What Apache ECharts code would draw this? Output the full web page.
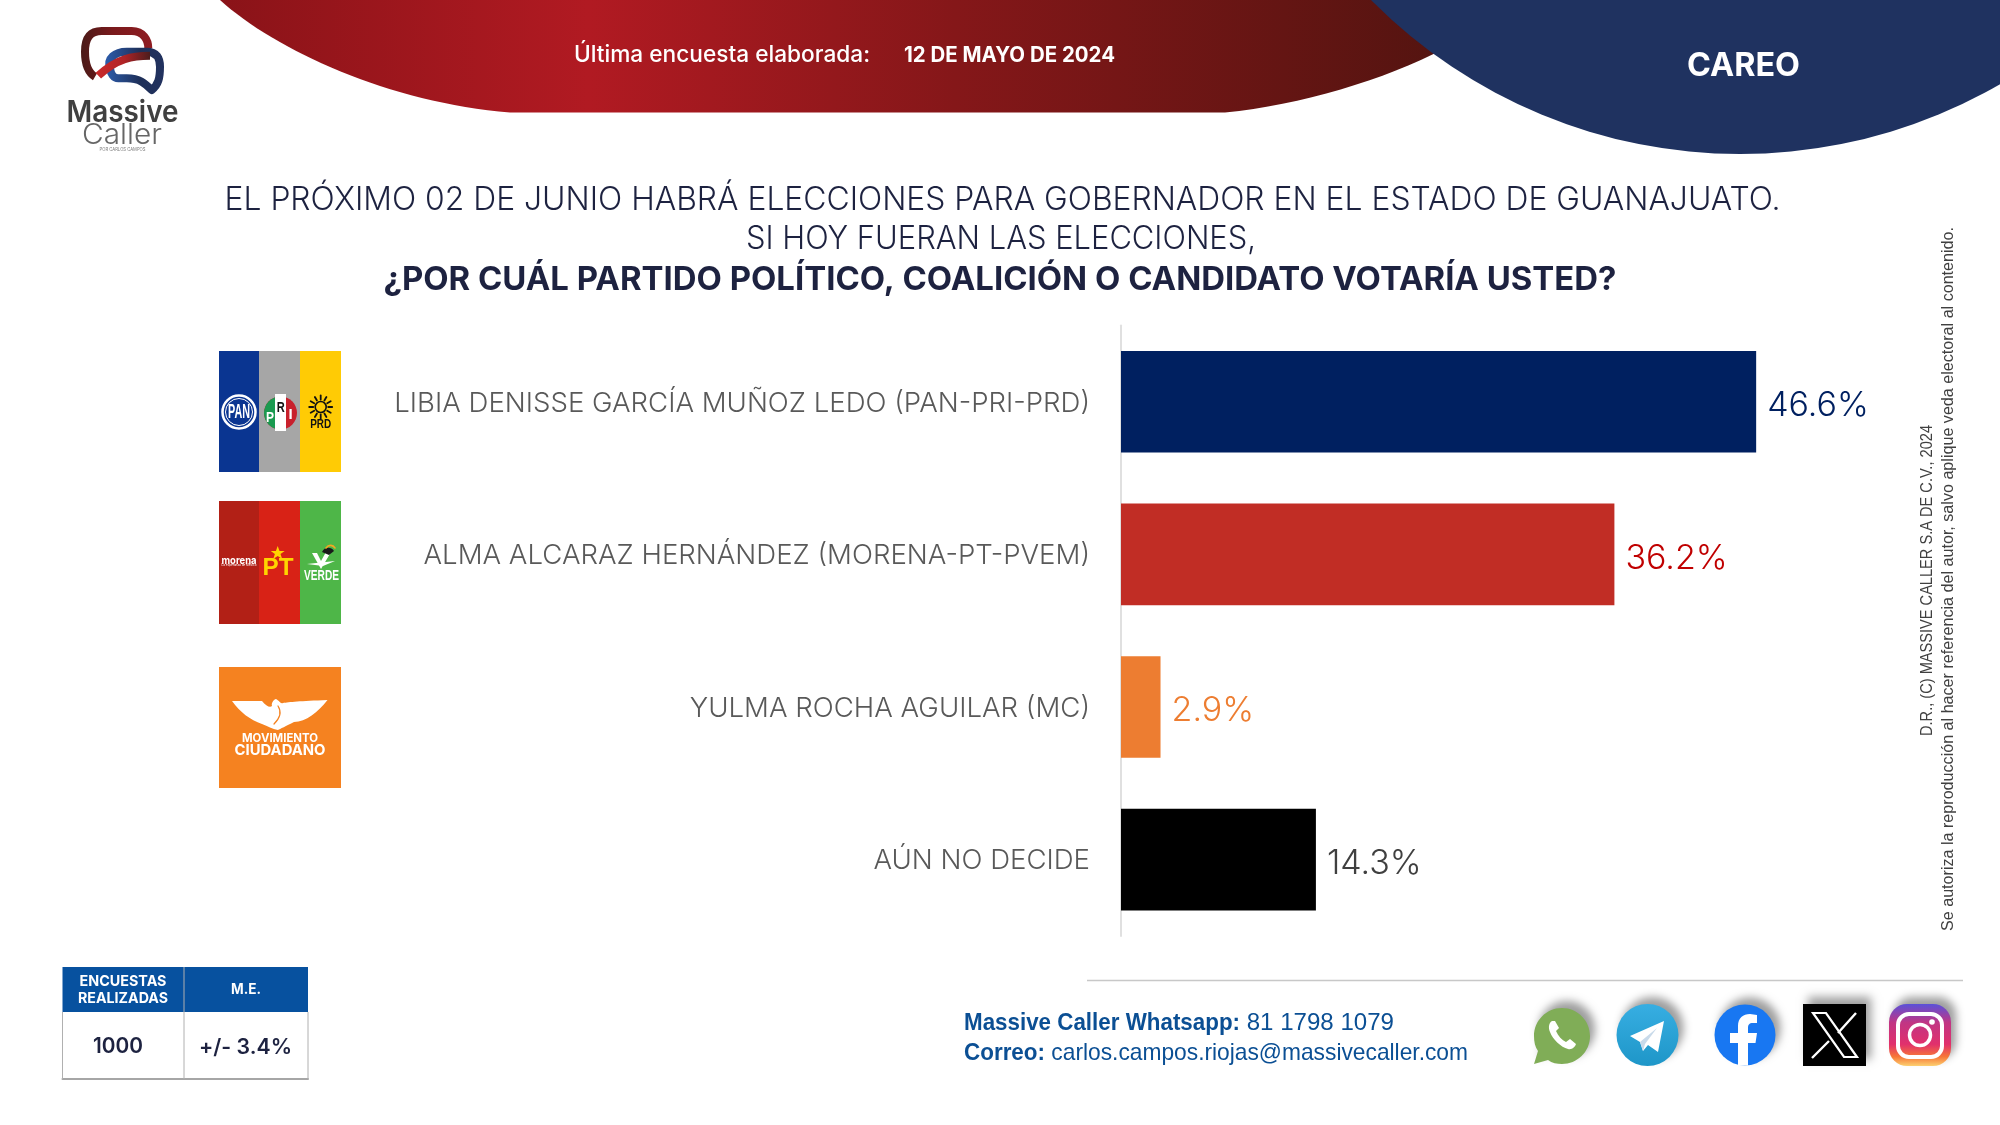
<!DOCTYPE html>
<html><head><meta charset="utf-8">
<style>html,body{margin:0;padding:0;background:#fff}#c{width:2000px;height:1125px}</style>
<script src="https://cdn.jsdelivr.net/npm/echarts@6/dist/echarts.min.js"></script>
</head><body><div id="c"></div>
<script>
const categories = ['LIBIA DENISSE GARCÍA MUÑOZ LEDO (PAN-PRI-PRD)','ALMA ALCARAZ HERNÁNDEZ (MORENA-PT-PVEM)','YULMA ROCHA AGUILAR (MC)','AÚN NO DECIDE'];
const values = [46.6, 36.2, 2.9, 14.3];
const barColors = ['#002060','#c12d25','#ed7d31','#000000'];
const labelColors = ['#002060','#c00000','#ed7d31','#404040'];
const titleLines = ['EL PRÓXIMO 02 DE JUNIO HABRÁ ELECCIONES PARA GOBERNADOR EN EL ESTADO DE GUANAJUATO.','SI HOY FUERAN LAS ELECCIONES,','¿POR CUÁL PARTIDO POLÍTICO, COALICIÓN O CANDIDATO VOTARÍA USTED?'];
const headerNote = 'Última encuesta elaborada:';
const headerDate = '12 DE MAYO DE 2024';
const headerTag = 'CAREO';
const tableHead = ['ENCUESTAS','REALIZADAS','M.E.'];
const tableBody = ['1000','+/- 3.4%'];
const contact = ['Massive Caller Whatsapp:',' 81 1798 1079','Correo:',' carlos.campos.riojas@massivecaller.com'];
const legal = ['D.R., (C) MASSIVE CALLER S.A DE C.V., 2024','Se autoriza la reproducción al hacer referencia del autor, salvo aplique veda electoral al contenido.'];

const SANS='Inter', NARROW='"Liberation Sans"';
const mctx=document.createElement('canvas').getContext('2d');
function T(text,x,y,size,color,o){o=o||{};
  const weight=o.w||400,family=o.f||SANS;
  const font=weight+' '+size+'px '+family;
  let sx=1; if(o.width){mctx.font=font;sx=o.width/mctx.measureText(text).width;}
  return {type:'text',x:x,y:o.rot?y:y+1.5,scaleX:sx,scaleY:1,rotation:o.rot||0,z:o.z||10,silent:true,
    style:{text:text,x:0,y:0,fill:color,font:font,align:o.a||'left',verticalAlign:'middle'}};
}
function R(x,y,w,h,fill,r,z){return {type:'rect',shape:{x:x,y:y,width:w,height:h,r:r||0},style:{fill:fill},z:z||5,silent:true};}
function C(cx,cy,r,fill,stroke,lw,z){return {type:'circle',shape:{cx:cx,cy:cy,r:r},style:{fill:fill||'none',stroke:stroke||null,lineWidth:lw||0},z:z||6,silent:true};}
let pathCount=0;
function P(d,fill,stroke,lw,z,extra){const name='decoPath'+(pathCount++);
  echarts.graphic.registerShape(name,echarts.graphic.extendPath(d));
  return {type:name,style:Object.assign({fill:fill||'none',stroke:stroke||null,lineWidth:lw||0,lineCap:'round',lineJoin:'round'},extra||{}),z:z||6,silent:true};}
function lin(stops,x2,y2){return {type:'linear',x:0,y:0,x2:x2===undefined?1:x2,y2:y2===undefined?0:y2,colorStops:stops.map((c,i)=>({offset:c[0],color:c[1]}))};}
const shadow={shadowColor:'rgba(0,0,0,0.38)',shadowBlur:9,shadowOffsetX:5,shadowOffsetY:-7};

const g=[];
// header
g.push(P('M220,0 C275,50 390,103 510,112.5 L1225,112.5 C1300,105 1385,80 1445,48 L1445,0 Z',lin([[0,'#8a1318'],[0.3,'#b11a22'],[0.6,'#851719'],[1,'#541410']]),null,0,1));
g.push(C(1740,-365,519,'#1f3260',null,0,2));
g.push(T(headerNote,574,54,23,'#ffffff',{width:296,w:500}));
g.push(T(headerDate,904,54,21,'#ffffff',{width:211,w:700}));
g.push(T(headerTag,1743.5,65,32,'#ffffff',{a:'center',width:113,w:700}));
// logo
g.push(P('M95,76.7 C86.7,71.7 85,61.7 85,51.7 C85,38.3 90,31 101.7,31 L131.7,31 C143.3,31 148.3,40 148.3,48.3',null,lin([[0,'#4a1a18'],[0.45,'#7a1a1c'],[1,'#8f1c22']]),8,3,{lineCap:'butt'}));
g.push(P('M110,68.3 C106.7,58.3 115,51.7 126.7,51.7 L146.7,51.7 C156.7,51.7 160,58.3 160,66.7 C160,78.3 158.3,85 151.7,90 C145,83.3 140,78.3 126.7,78.3 L118.3,78.3 C113.3,78.3 110.7,73.3 110,68.3',null,lin([[0,'#2c5cab'],[0.6,'#1e2f58'],[1,'#22325f']]),8,4,{lineCap:'butt'}));
g.push(P('M150,55.7 C133,55.7 116.7,58.3 98.3,75.7',null,lin([[0,'#cc2b2c'],[0.5,'#b02326'],[1,'#3c1c1c']]),8,5,{lineCap:'butt'}));
g.push(T('Massive',122.5,111.5,30,'#404040',{a:'center',width:112,w:600}));
g.push(T('Caller',122,134.5,28,'#666666',{a:'center',width:80,w:300}));
g.push(T('POR CARLOS CAMPOS',122.5,147.5,5,'#808080',{a:'center',width:46}));
// titles
g.push(T(titleLines[0],1002.5,199,32,'#1d2240',{a:'center',width:1556,w:300}));
g.push(T(titleLines[1],1001,238,32,'#1d2240',{a:'center',width:510,w:300}));
g.push(T(titleLines[2],1000,278.5,32,'#1d2240',{a:'center',width:1233,w:700}));
// logo 1
g.push(R(219,351,40,121,'#0a3591'));g.push(R(259,351,41,121,'#a6a6a6'));g.push(R(300,351,41,121,'#ffcb05'));
g.push(C(239,412,16.5,'#0a3591','#ffffff',2.5));
g.push(C(239,412,13.5,'none','#ffffff',1,7));
g.push(T('PAN',239,410.5,20,'#ffffff',{a:'center',w:700,f:NARROW,width:22,z:7}));
g.push(C(280.5,413,16.5,'#c8202c'));
g.push(P('M280.5,396.5 A16.5,16.5 0 0 0 280.5,429.5 Z','#1a9a50'));
g.push(R(275,394,11,37,'#ffffff',0,7));
g.push(T('P',270,416,15,'#ffffff',{a:'center',w:700,z:8,f:NARROW,width:8}));
g.push(T('R',280.7,406.5,15,'#111111',{a:'center',w:700,z:8,f:NARROW,width:8}));
g.push(T('I',290.7,413.5,15,'#ffffff',{a:'center',w:700,z:8,f:NARROW}));
g.push(C(320.7,407,5.5,'none','#111',1.6));
for(const a of [0,30,60,90,120,150,180,210,240,270,300,330]){const r=a*Math.PI/180,c=Math.cos(r),s=Math.sin(r);
  g.push(P('M'+(320.7+7.5*c).toFixed(1)+','+(407+7.5*s).toFixed(1)+' L'+(320.7+11.5*c).toFixed(1)+','+(407+11.5*s).toFixed(1),null,'#111',1.8));}
g.push(T('PRD',320.7,423,12,'#111111',{a:'center',w:700,f:NARROW,width:21}));
// logo 2
g.push(R(219,501,40,123,'#b22016'));g.push(R(259,501,41,123,'#d82216'));g.push(R(300,501,41,123,'#4eb648'));
g.push(T('morena',239,559,11,'#ffffff',{a:'center',w:700,width:35}));
g.push(T('La esperanza de México',239,563.5,3,'#ffffff',{a:'center',width:35}));
g.push(P('M277.7,546 L279.5,551 L284.7,551 L280.5,554 L282.2,559 L277.7,556 L273.2,559 L274.9,554 L270.7,551 L275.9,551 Z','#ffd400'));
g.push(T('PT',278,567,24,'#ffd400',{a:'center',w:700,f:NARROW,width:31}));
g.push(P('M312,553 L321,569 L331,552 L326,552 L321,561 L317,553 Z','#ffffff'));
g.push(P('M322,552 C324,547 331,546 334,551 L329,555 Z','#1a1a1a'));
g.push(P('M326,548 C329,544 333,545 335,548',null,'#f5a623',1.6));
g.push(P('M307,564 L335,561 L323,566 Z','#ffffff'));
g.push(T('VERDE',321.5,574.5,14,'#ffffff',{a:'center',w:700,f:NARROW,width:35}));
// logo 3
g.push(R(219,667,122,121,'#f58220'));
g.push(P('M232,701 L262,701 C266,706 270,708 272,706 C271,703 274,699 276,699 C280,701 280,704 283,703 C289,702 300,701 327.5,700 C318,712 306,722 294,722 C286,726 280,729 278,730 C272,729 268,726 262,724 C250,720 240,712 232,701 Z','#ffffff'));
g.push(P('M278,706 C282,712 280,718 274,724',null,'#f58220',1.2,7));
g.push(T('MOVIMIENTO',280,737.5,11.5,'#ffffff',{a:'center',w:700,width:76}));
g.push(T('CIUDADANO',280,749.5,14.5,'#ffffff',{a:'center',w:700,width:91}));
// table
g.push(R(62.5,967,245.5,45,'#07519f'));
g.push(P('M62.5,1079 L308,1079',null,'#a6a6a6',2));
g.push(P('M62.5,1012 L62.5,1079 M184,967 L184,1079 M308,1012 L308,1079',null,'#b0b0b0',1,7,{lineCap:'butt'}));
g.push(T(tableHead[0],123,980,15,'#ffffff',{a:'center',w:700,width:87,z:8}));
g.push(T(tableHead[1],123,997,15,'#ffffff',{a:'center',w:700,width:90,z:8}));
g.push(T(tableHead[2],246,988,14,'#ffffff',{a:'center',w:700,width:30,z:8}));
g.push(T(tableBody[0],118,1045,21,'#1d2240',{a:'center',w:600,width:50}));
g.push(T(tableBody[1],245.5,1046,21,'#1d2240',{a:'center',w:600,width:93}));
// footer
g.push(P('M1087,980.5 L1963,980.5',null,'#c8c8c8',1.5,5,{lineCap:'butt'}));
g.push(T(contact[0],964,1022,24,'#0b4f94',{w:700,f:NARROW,width:276}));
g.push(T(contact[1],1240,1022,24,'#0b4f94',{f:NARROW,width:154}));
g.push(T(contact[2],964,1052,24,'#0b4f94',{w:700,f:NARROW,width:81}));
g.push(T(contact[3],1045,1052,24,'#0b4f94',{f:NARROW,width:423}));
// whatsapp
g.push(P('M1562,1008 C1578,1008 1590,1021 1590,1036 C1590,1052 1577,1064 1562,1064 C1557,1064 1552,1063 1548,1060 L1534,1064 L1538,1051 C1535,1047 1534,1042 1534,1036 C1534,1021 1546,1008 1562,1008 Z','#80ad57',null,0,6,shadow));
g.push(P('M1552,1021 C1549,1023 1548,1027 1550,1032 C1553,1040 1561,1047 1568,1049 C1572,1050 1575,1047 1576,1044 L1570,1039 L1566,1042 C1562,1040 1558,1036 1556,1031 L1559,1028 L1555,1021 Z','#ffffff',null,0,7));
// telegram
g.push(C(1647.5,1035,31,lin([[0,'#37aee2'],[1,'#1e96c8']],0,1)));
g[g.length-1].style=Object.assign(g[g.length-1].style,shadow);
g.push(P('M1630,1036 L1664,1021 L1658,1052 L1648,1045 L1643,1051 L1640,1042 Z','#ffffff',null,0,7));
g.push(P('M1640,1042 L1657,1028 L1645,1044 L1643,1051 Z','#c8daea',null,0,8));
// facebook
g.push(C(1745,1035,30.5,'#1877f2'));
g[g.length-1].style=Object.assign(g[g.length-1].style,shadow);
g.push(P('M1738,1065.5 L1738,1043 L1730,1043 L1730,1033 L1738,1033 L1738,1026 C1738,1018 1743,1014 1750,1014 L1757,1015 L1757,1023 L1753,1023 C1749,1023 1748,1025 1748,1028 L1748,1033 L1757,1033 L1755.5,1043 L1748,1043 L1748,1065.5 Z','#ffffff',null,0,7));
// x
g.push(R(1803,1004,63,62,'#000000',0,6));
g[g.length-1].style=Object.assign(g[g.length-1].style,shadow);
g.push(P('M1813,1013 L1826,1013 L1857,1057 L1844,1057 Z',null,'#ffffff',2.2,7,{lineJoin:'miter'}));
g.push(P('M1856,1013 L1838,1033 M1829,1041 L1812,1058',null,'#ffffff',2.4,7,{lineCap:'butt'}));
// instagram
g.push(R(1889,1004,62,62,lin([[0,'#5b51d8'],[0.3,'#c13584'],[0.65,'#e1306c'],[0.85,'#f77737'],[1,'#fcd070']],0,1),18,6));
g[g.length-1].style=Object.assign(g[g.length-1].style,shadow);
g.push({type:'rect',shape:{x:1898,y:1014,width:44,height:43,r:11},style:{fill:'none',stroke:'#fff',lineWidth:4},z:7,silent:true});
g.push(C(1920,1035,10.5,'none','#ffffff',3.5,7));
g.push(C(1932,1022,2.8,'#ffffff',null,0,7));
// legal
g.push(T(legal[0],1927,736,17,'#404040',{f:NARROW,rot:Math.PI/2,width:311}));
g.push(T(legal[1],1948,931,17,'#404040',{f:NARROW,rot:Math.PI/2,width:704}));

const chart=echarts.init(document.getElementById('c'),null,{renderer:'canvas'});
chart.setOption({
  animation:false,
  backgroundColor:'#ffffff',
  grid:{left:1121,top:325.5,width:817.8,height:610.4},
  xAxis:{type:'value',min:0,max:60,show:false,splitLine:{show:false}},
  yAxis:{type:'category',inverse:true,data:categories,
    axisLine:{show:true,lineStyle:{color:'#e0e0e0',width:2}},
    axisTick:{show:false},
    axisLabel:{margin:31,color:'#595959',fontFamily:SANS,fontWeight:300,fontSize:27.6,verticalAlign:'top',lineHeight:3}},
  series:[{type:'bar',barWidth:101.6,
    data:values.map((v,i)=>({value:v,itemStyle:{color:barColors[i]},label:{color:labelColors[i]}})),
    label:{show:true,position:'right',distance:11,offset:[0,4],fontFamily:SANS,fontWeight:300,fontSize:34,formatter:p=>p.value.toFixed(1)+'%'}}],
  graphic:{elements:g}
});
</script></body></html>
